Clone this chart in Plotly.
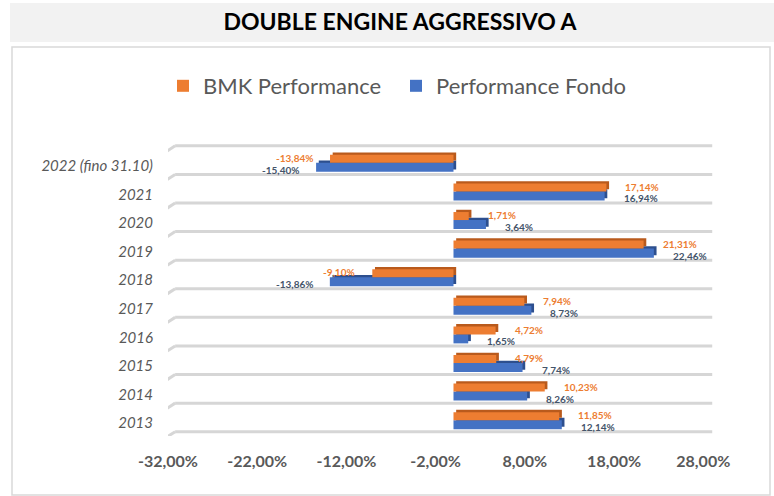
import plotly.graph_objects as go

# ---- data ----
years = ["2013", "2014", "2015", "2016", "2017", "2018", "2019", "2020", "2021", "2022 (fino 31.10)"]
bmk = [11.85, 10.23, 4.79, 4.72, 7.94, -9.10, 21.31, 1.71, 17.14, -13.84]
fondo = [12.14, 8.26, 7.74, 1.65, 8.73, -13.86, 22.46, 3.64, 16.94, -15.40]
x_ticks = [-32, -22, -12, -2, 8, 18, 28]
x_ticktext = ["-32,00%", "-22,00%", "-12,00%", "-2,00%", "8,00%", "18,00%", "28,00%"]

ORANGE = "#ED7D31"
ORANGE_DARK = "#B95A1C"
BLUE = "#4472C4"
BLUE_DARK = "#2D4F8E"
LBL_BLUE = "#44546A"
GRAY_TXT = "#595959"
FONT = "Lato, 'Liberation Sans', Arial, sans-serif"

W, H = 774, 496
ML, MR, MT, MB = 168, 60, 143, 60
XR = [-32, 29.2]
YR = [-0.65, 9.6]

pos = list(range(len(years)))

def fmt(v):
    return f"{v:.2f}".replace(".", ",") + "%"

fig = go.Figure()

DX = 0.3   # 3D depth shift (x units)
DY = 0.08  # 3D depth shift (y units)
B_OFF, B_W = -0.41, 0.315
O_OFF, O_W = -0.095, 0.28

# blue depth + front
fig.add_trace(go.Bar(y=pos, x=fondo, base=DX, orientation="h", offset=B_OFF + DY, width=B_W,
                     marker=dict(color=BLUE_DARK, line=dict(width=0)), showlegend=False, hoverinfo="skip"))
fig.add_trace(go.Bar(y=pos, x=fondo, orientation="h", offset=B_OFF, width=B_W, name="Performance Fondo",
                     marker=dict(color=BLUE, line=dict(width=0)), legendrank=2))
# orange depth + front
fig.add_trace(go.Bar(y=pos, x=bmk, base=DX, orientation="h", offset=O_OFF + DY, width=O_W,
                     marker=dict(color=ORANGE_DARK, line=dict(width=0)), showlegend=False, hoverinfo="skip"))
fig.add_trace(go.Bar(y=pos, x=bmk, orientation="h", offset=O_OFF, width=O_W, name="BMK Performance",
                     marker=dict(color=ORANGE, line=dict(width=0)), legendrank=1))

annotations = []
for i, (o, b) in enumerate(zip(bmk, fondo)):
    for v, dy, col in ((o, 0.07, ORANGE), (b, -0.34, LBL_BLUE)):
        annotations.append(dict(
            x=v, y=i + dy, xref="x", yref="y", text=fmt(v), showarrow=False,
            xanchor="left" if v >= 0 else "right", yanchor="middle",
            xshift=17 if v >= 0 else -15,
            font=dict(family=FONT, size=10, color=col, weight="bold")))

# pixel -> paper helpers for decorations
PW = W - ML - MR
PH = H - MT - MB
def px(xp):
    return (xp - ML) / PW
def py(yp):
    return (H - MB - yp) / PH

shapes = []
# title band
shapes.append(dict(type="rect", xref="paper", yref="paper", x0=px(10), x1=px(774), y0=py(42), y1=py(3),
                   fillcolor="#F2F2F2", line=dict(width=0), layer="below"))
# chart border
shapes.append(dict(type="rect", xref="paper", yref="paper", x0=px(12), x1=px(770), y0=py(495), y1=py(47),
                   fillcolor="rgba(0,0,0,0)", line=dict(color="#D9D9D9", width=1.5), layer="below"))
# 3D floor gridlines
for k in range(len(years) + 1):
    yb = k - 0.5
    shapes.append(dict(type="line", xref="x", yref="y", x0=-31.2, x1=29.0, y0=yb, y1=yb,
                       line=dict(color="#D6D6D6", width=3), layer="below"))
    shapes.append(dict(type="line", xref="x", yref="y", x0=-32.2, x1=-31.2, y0=yb - 0.2, y1=yb,
                       line=dict(color="#D6D6D6", width=3), layer="below"))

fig.update_layout(
    width=W, height=H, autosize=False,
    margin=dict(l=ML, r=MR, t=MT, b=MB),
    paper_bgcolor="white", plot_bgcolor="white",
    barmode="overlay",
    title=dict(text="DOUBLE ENGINE AGGRESSIVO A", x=400 / W, y=1 - 22 / H, xref="container", yref="container",
               xanchor="center", yanchor="middle",
               font=dict(family=FONT, size=23, color="black", weight="bold")),
    legend=dict(orientation="h", x=396 / W, y=1 - 86 / H, xref="container", yref="container",
                xanchor="center", yanchor="middle", traceorder="normal",
                font=dict(family=FONT, size=22, color=GRAY_TXT), itemwidth=30,
                entrywidth=188, entrywidthmode="pixels"),
    xaxis=dict(range=XR, tickvals=x_ticks, ticktext=x_ticktext, showgrid=False, zeroline=False,
               showline=False, ticks="", ticklabelstandoff=14,
               tickfont=dict(family=FONT, size=16, color=GRAY_TXT, weight="bold")),
    yaxis=dict(range=YR, tickvals=[p - 0.2 for p in pos], ticktext=years, showgrid=False, zeroline=False,
               showline=False, ticks="", ticklabelstandoff=14,
               tickfont=dict(family=FONT, size=15, color=GRAY_TXT, style="italic")),
    annotations=annotations,
    shapes=shapes,
    showlegend=True,
)

fig.write_html("out.html", config={"displayModeBar": False},
               post_script="document.body.style.margin='0';")
